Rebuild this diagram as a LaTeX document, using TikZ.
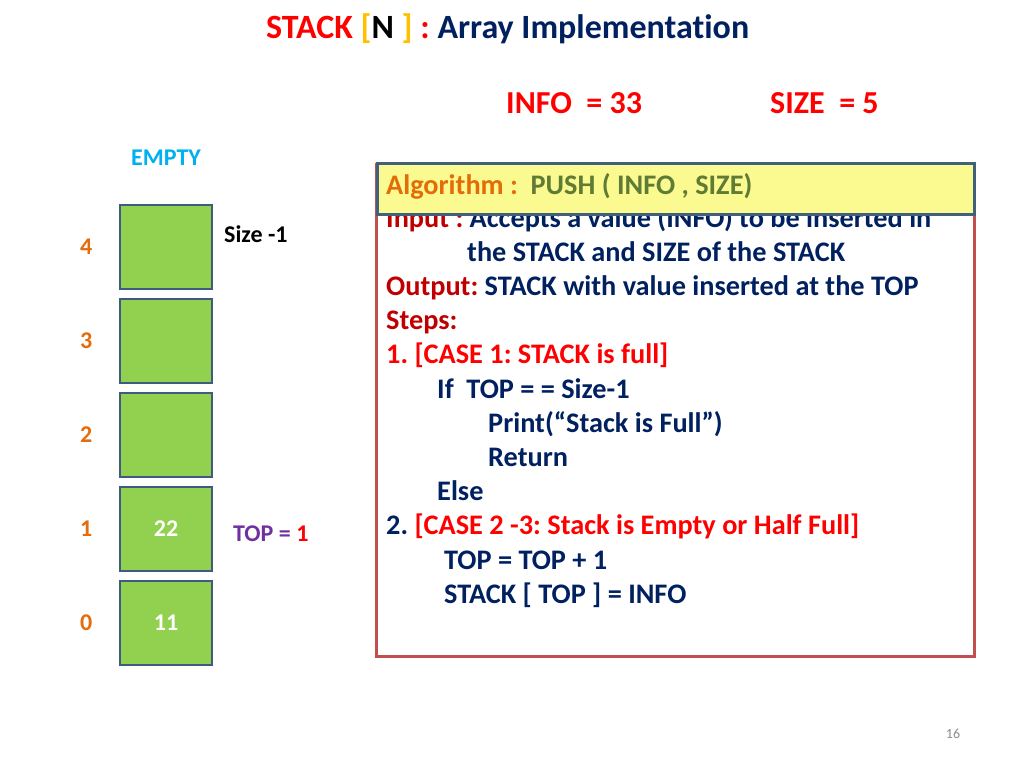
\documentclass[tikz,border=0pt]{standalone}
\usepackage{fontspec}
\setmainfont{Carlito}[Ligatures = NoCommon]
\usepackage{tikz}
\definecolor{cellgreen}{HTML}{92D050}
\definecolor{cellborder}{HTML}{3E5C7E}
\definecolor{idxorange}{HTML}{E46C0A}
\definecolor{emptyblue}{HTML}{00B0F0}
\definecolor{toppurple}{HTML}{7030A0}
\definecolor{navy}{HTML}{002060}
\definecolor{darkred}{HTML}{C00000}
\definecolor{bracket}{HTML}{FFC000}
\definecolor{algoorange}{HTML}{E36C09}
\definecolor{pushgreen}{HTML}{607B33}
\definecolor{headyellow}{HTML}{FAFA90}
\definecolor{headborder}{HTML}{41607E}
\definecolor{algored}{HTML}{C0504D}
\definecolor{pagegray}{HTML}{8C8C8C}
\frenchspacing

\begin{document}
\begin{tikzpicture}[x = 1pt, y = -1pt]
\tikzstyle{cell} = [rectangle, draw = cellborder, line width = 2.5pt, fill = cellgreen, minimum width = 92pt, minimum height = 84pt, inner sep = 0pt, text = white, font = \fontsize{24}{28}\selectfont\bfseries]
\tikzstyle{txt} = [anchor = base west, inner sep = 0pt, font = \fontsize{24}{28}\selectfont\bfseries]
\tikzset{every label/.style = {text = idxorange, font = \fontsize{24}{28}\selectfont\bfseries}, algoline/.style = {anchor = base west, inner sep = 0pt, text = navy, font = \fontsize{28.3}{34}\selectfont\bfseries}}
\useasboundingbox (0,0) rectangle (1024,768);

% title and input values
\node (title) [anchor = base west, inner sep = 0pt, font = \fontsize{34}{40}\selectfont\bfseries] at (266, 38)
 {\textcolor{red}{STACK} \textcolor{bracket}{[}N \textcolor{bracket}{]} \textcolor{red}{:} \textcolor{navy}{Array Implementation}};
\node (info) [anchor = base west, inner sep = 0pt, text = red, font = \fontsize{32}{36}\selectfont\bfseries] at (506, 113) {INFO\ \ = 33};
\node (size) [anchor = base west, inner sep = 0pt, text = red, font = \fontsize{32}{36}\selectfont\bfseries] at (770, 113) {SIZE\ \ = 5};

% the stack
\foreach \i/\v in {0/11, 1/22, 2/{}, 3/{}, 4/{}}
 \node [cell, label = {[label distance = 23pt]left: \i}] (c\i) at (166, {623 - 94*\i}) {\v};
\node (empty) [anchor = base, inner sep = 0pt, text = emptyblue, font = \fontsize{24}{28}\selectfont\bfseries] at (166, 165) {EMPTY};
\node (sizem) [txt] at (224, 242) {Size -1};
\node (top) [txt, text = toppurple] at (233, 541) {TOP = \textcolor{red}{1}};

% algorithm
\node (algo) [draw = algored, line width = 2.5pt, minimum width = 598pt, minimum height = 492pt, anchor = north west, inner sep = 0pt] at (375, 163) {};
\foreach \k/\dx/\t in {0/0/{\textcolor{darkred}{Input :} Accepts a value (INFO) to be inserted in},
 1/81/{the STACK and SIZE of the STACK},
 2/0/{\textcolor{darkred}{Output:} STACK with value inserted at the TOP},
 3/0/{\textcolor{darkred}{Steps:}},
 4/0/{\textcolor{red}{1. [CASE 1: STACK is full]}},
 5/51/{If\ \ TOP = = Size-1},
 6/102/{Print(“Stack is Full”)},
 7/102/{Return},
 8/51/{Else},
 9/0/{2. \textcolor{red}{[CASE 2 -3: Stack is Empty or Half Full]}},
 10/58/{TOP = TOP + 1},
 11/58/{STACK [ TOP ] = INFO}}
 \node [algoline] (l\k) at ({386 + \dx}, {227 + 34.2*\k}) {\t};
\node (head) [draw = headborder, line width = 3pt, fill = headyellow, minimum width = 597pt, minimum height = 51pt, anchor = north west, inner sep = 0pt] at (376, 162) {};
\node (headtext) [algoline, text = algoorange] at (386, 194) {Algorithm :\ \ \textcolor{pushgreen}{PUSH ( INFO , SIZE)}};

\node (page) [anchor = base, inner sep = 0pt, text = pagegray, font = \fontsize{14}{16}\selectfont] at (953, 738) {16};
\end{tikzpicture}
\end{document}
